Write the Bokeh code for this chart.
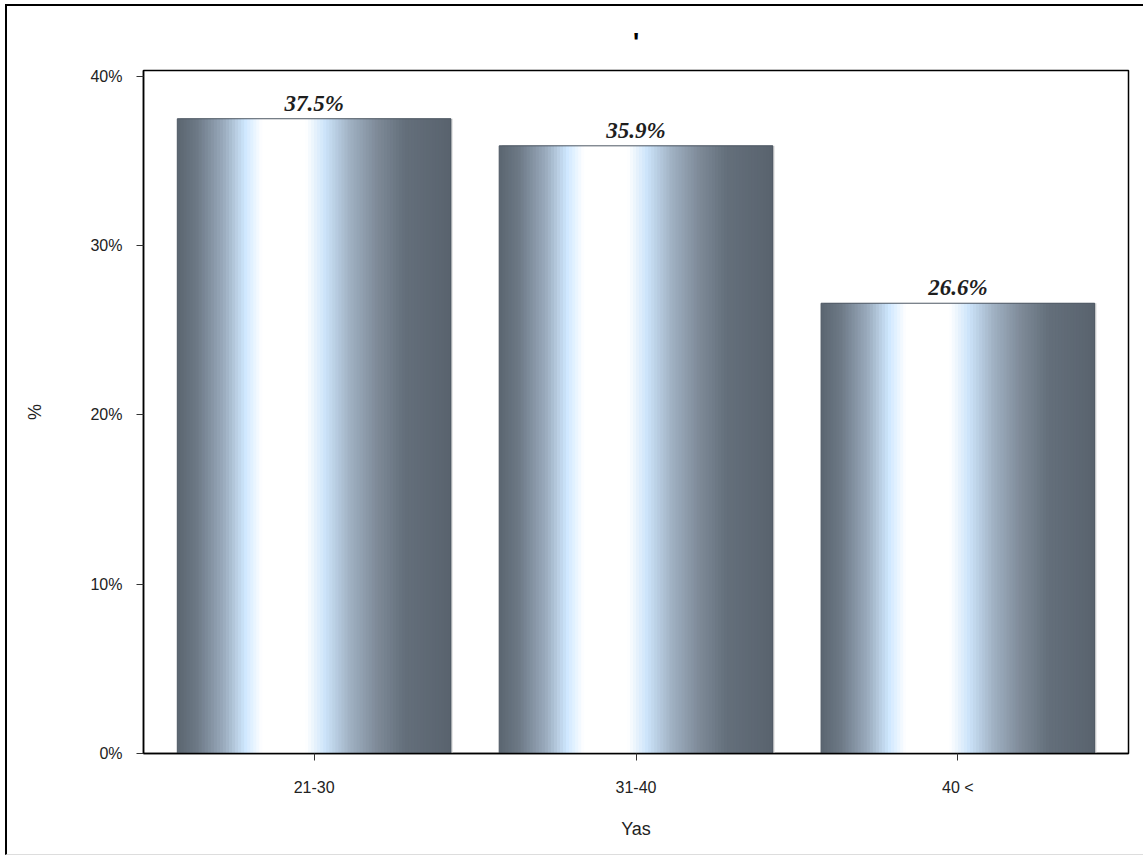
from bokeh.plotting import figure
from bokeh.models import ColumnDataSource, FactorRange, Range1d, FixedTicker, PrintfTickFormatter
from bokeh.transform import dodge
from bokeh.core.properties import value
from bokeh.embed import file_html
from bokeh.resources import INLINE

# ---- data ----
categories = ["21-30", "31-40", "40 <"]
percents = [37.5, 35.9, 26.6]
labels = ["37.5%", "35.9%", "26.6%"]
y_ticks = [0, 10, 20, 30, 40]

# ---- styling: gradient stops across each bar (fraction, colour) ----
stops = [(0.00, (0x5b, 0x65, 0x70)), (0.07, (0x6c, 0x78, 0x85)), (0.17, (0x9a, 0xab, 0xbd)),
         (0.25, (0xd0, 0xe8, 0xff)), (0.31, (0xff, 0xff, 0xff)), (0.47, (0xff, 0xff, 0xff)),
         (0.54, (0xcc, 0xe4, 0xfa)), (0.63, (0xa0, 0xb1, 0xc3)), (0.73, (0x7e, 0x8a, 0x98)),
         (0.83, (0x64, 0x6f, 0x7b)), (1.00, (0x59, 0x63, 0x6e))]

def grad(t):
    for (a, ca), (b, cb) in zip(stops[:-1], stops[1:]):
        if a <= t <= b:
            f = (t - a) / (b - a) if b > a else 0
            c = [round(ca[i] + (cb[i] - ca[i]) * f) for i in range(3)]
            return "#%02x%02x%02x" % tuple(c)
    return "#59636e"

BAR_W = 0.85
N = 90

p = figure(x_range=FactorRange(*categories, range_padding=0.02),
           y_range=Range1d(0, 40.35),
           width=1138, height=851, output_backend="svg", toolbar_location=None,
           min_border_left=136, min_border_right=17, min_border_top=64, min_border_bottom=104)

src = ColumnDataSource(dict(cat=categories, pct=percents, lab=labels))

# soft shadow
p.vbar(x=dodge("cat", 0.006, range=p.x_range), top="pct", width=BAR_W, source=src,
       fill_color="#e2e2e2", line_color=None)

sw = BAR_W / N
for i in range(N):
    t = (i + 0.5) / N
    col = grad(t)
    if i < N - 1:
        # each strip extends into the next one so no seams show
        off = -BAR_W / 2 + (i + 1.0) * sw
        w = 2 * sw
    else:
        off = -BAR_W / 2 + (i + 0.5) * sw
        w = sw
    p.vbar(x=dodge("cat", off, range=p.x_range), top="pct", width=w, source=src,
           fill_color=col, line_color=None)

p.vbar(x="cat", top="pct", width=BAR_W, source=src, fill_color=None,
       line_color="#4e5863", line_width=1)

p.text(x="cat", y="pct", text="lab", source=src, text_align="center", text_baseline="bottom",
       y_offset=-3, text_font=value("Liberation Serif"), text_font_style="bold italic",
       text_font_size="23px", text_color="#1e1e1e")

p.title.text = "'"
p.title.align = "center"
p.title.text_font = "Liberation Sans"
p.title.text_font_size = "26px"
p.title.text_font_style = "bold"
p.title.text_color = "black"
p.title.standoff = 27

p.outline_line_color = "black"
p.outline_line_width = 1.5
p.grid.visible = False
p.background_fill_color = "white"
p.border_fill_color = "white"

p.yaxis.ticker = FixedTicker(ticks=y_ticks)
p.yaxis.formatter = PrintfTickFormatter(format="%d%%")
for ax in (p.xaxis[0], p.yaxis[0]):
    ax.axis_line_color = "black"
    ax.axis_line_width = 1.5
    ax.major_tick_line_color = "#333333"
    ax.major_tick_out = 7
    ax.major_tick_in = 0
    ax.minor_tick_line_color = None
    ax.major_label_text_font = "Liberation Sans"
    ax.major_label_text_font_size = "16px"
    ax.major_label_text_color = "#222222"
    ax.axis_label_text_font = "Liberation Sans"
    ax.axis_label_text_font_size = "18px"
    ax.axis_label_text_font_style = "normal"
    ax.axis_label_text_color = "#222222"

p.yaxis.axis_label = "%"
p.yaxis.major_label_standoff = 14
p.yaxis.axis_label_standoff = 42
p.xaxis.axis_label = "Yas"
p.xaxis.major_label_standoff = 18
p.xaxis.axis_label_standoff = 20

p.styles = {"margin-left": "5px", "margin-top": "4px",
            "border-left": "2px solid black", "border-top": "2px solid black",
            "border-bottom": "1px solid #dddddd"}

open("out.html", "w").write(file_html(p, INLINE))
